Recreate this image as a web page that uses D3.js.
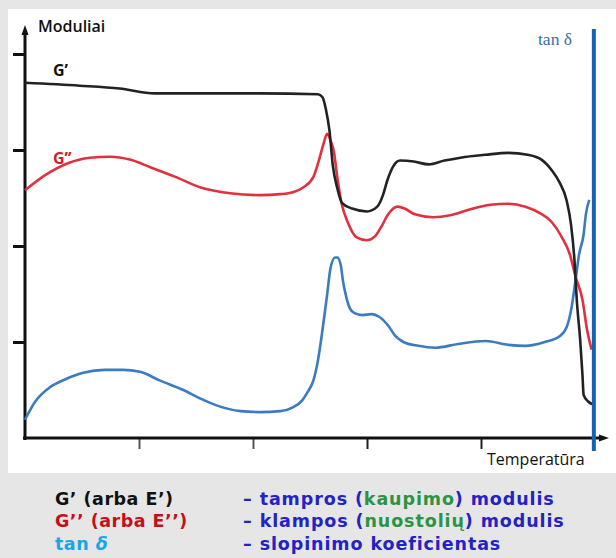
<!DOCTYPE html>
<html><head><meta charset="utf-8">
<script src="https://cdn.jsdelivr.net/npm/d3@7"></script>
<style>html,body{margin:0;padding:0;background:#e6e6e6;}svg{display:block;}</style>
</head><body>
<svg id="chart" width="616" height="558"></svg>
<script>
// ---- data (temperature in arbitrary units, modulus in arbitrary units) ----
const xTicks = [100, 200, 300, 400];
const yTicks = [100, 200, 300, 400];

const gPrimeT = [0, 48, 83, 114, 154, 206, 257, 261, 264, 267, 270, 274, 278, 287, 300, 309, 314, 318, 323, 329, 341, 354, 368, 382, 404, 424, 441, 453, 462, 469, 475, 479, 482, 484, 487, 489, 490, 494, 498];
const gPrimeV = [370, 367, 364, 359, 359, 359, 358, 355, 342, 321, 284, 260, 245, 239, 236, 241, 253, 269, 283, 289, 288, 285, 289, 292, 295, 297, 295, 290, 279, 266, 248, 222, 185, 144, 102, 66, 45, 38, 35];

const gDoubleT = [0, 18, 37, 57, 75, 92, 110, 132, 154, 180, 206, 224, 235, 244, 253, 258, 262, 265, 268, 271, 274, 278, 283, 291, 300, 307, 313, 318, 327, 333, 342, 358, 373, 390, 408, 424, 439, 452, 462, 471, 478, 483, 489, 493, 497];
const gDoubleV = [258, 274, 286, 292, 293, 290, 282, 272, 261, 255, 253, 254, 256, 261, 272, 290, 307, 317, 310, 298, 271, 243, 225, 209, 206, 210, 221, 232, 241, 239, 233, 230, 232, 238, 243, 244, 241, 234, 225, 209, 191, 168, 144, 113, 92];

const tanDeltaT = [0, 9, 22, 35, 51, 70, 86, 101, 118, 139, 154, 168, 189, 206, 224, 235, 243, 248, 253, 257, 261, 265, 268, 272, 274, 277, 279, 282, 285, 289, 296, 304, 311, 318, 325, 332, 345, 360, 380, 404, 424, 439, 456, 469, 475, 479, 483, 486, 490, 492, 495];
const tanDeltaV = [19, 38, 53, 61, 68, 71, 71, 69, 60, 50, 41, 34, 28, 27, 28, 32, 39, 48, 60, 81, 113, 149, 177, 188, 188, 180, 163, 146, 135, 130, 128, 129, 126, 118, 106, 100, 96, 94, 98, 101, 97, 96, 100, 106, 115, 133, 165, 191, 212, 233, 248];

const tanAxisT = 499;

const seriesLabels = ["G\u2019", "G\u2019\u2019"];
const axisTitles = {y: "Moduliai", x: "Temperat\u016Bra", tan: "tan \u03B4"};

// ---- drawing ----
const svg = d3.select("#chart");
svg.append("rect").attr("x", 0).attr("y", 0).attr("width", 616).attr("height", 558).attr("fill", "#e6e6e6");
svg.append("rect").attr("x", 8).attr("y", 9).attr("width", 608).attr("height", 464).attr("fill", "#ffffff");

const x = d3.scaleLinear().domain([0, 500]).range([25, 595]);
const y = d3.scaleLinear().domain([0, 400]).range([438, 54]);

// axes ticks
const yAxis = d3.axisLeft(y).tickValues(yTicks).tickSize(12).tickSizeOuter(0).tickFormat("");
const gy = svg.append("g").attr("transform", "translate(25,0)").call(yAxis);
gy.select(".domain").remove();
gy.selectAll(".tick line").attr("stroke", "#111").attr("stroke-width", 3);

const xAxis = d3.axisBottom(x).tickValues(xTicks).tickSize(11).tickSizeOuter(0).tickFormat("");
const gx = svg.append("g").attr("transform", "translate(0,438)").call(xAxis);
gx.select(".domain").remove();
gx.selectAll(".tick line").attr("stroke", (d, i) => i < 2 ? "#555" : "#222").attr("stroke-width", 2);

// axis lines with arrows
svg.append("line").attr("x1", 25).attr("y1", 440).attr("x2", 25).attr("y2", 32).attr("stroke", "#111").attr("stroke-width", 3);
svg.append("path").attr("d", "M25,25 L21.5,35 L28.5,35 Z").attr("fill", "#111");
svg.append("line").attr("x1", 23).attr("y1", 438).attr("x2", 600).attr("y2", 438).attr("stroke", "#111").attr("stroke-width", 3);
svg.append("path").attr("d", "M609,438 L599,434.5 L599,441.5 Z").attr("fill", "#111");

// curves
const line = d3.line().x(d => x(d[0])).y(d => y(d[1])).curve(d3.curveMonotoneX);
const zip = (a, b) => a.map((v, i) => [v, b[i]]);

svg.append("path").datum(zip(tanDeltaT, tanDeltaV)).attr("d", line)
  .attr("fill", "none").attr("stroke", "#3b7bc2").attr("stroke-width", 2.6);
svg.append("path").datum(zip(gDoubleT, gDoubleV)).attr("d", line)
  .attr("fill", "none").attr("stroke", "#e2303e").attr("stroke-width", 2.6);
svg.append("path").datum(zip(gPrimeT, gPrimeV)).attr("d", line)
  .attr("fill", "none").attr("stroke", "#222222").attr("stroke-width", 2.6);

// tan delta axis line
svg.append("line").attr("x1", x(tanAxisT)).attr("y1", 29).attr("x2", x(tanAxisT)).attr("y2", 451)
  .attr("stroke", "#1663b3").attr("stroke-width", 4);

// texts
const sans = "'Open Sans', 'Noto Sans', sans-serif";
svg.append("text").attr("x", 38).attr("y", 32).attr("font-family", sans).attr("font-size", 16)
  .attr("font-weight", 600).attr("fill", "#111").text(axisTitles.y);
svg.append("text").attr("x", 487).attr("y", 465).attr("font-family", sans).attr("font-size", 16)
  .attr("fill", "#111").text(axisTitles.x);
svg.append("text").attr("x", 538).attr("y", 45).attr("font-family", "'Liberation Serif', 'DejaVu Serif', serif")
  .attr("font-size", 17.5).attr("fill", "#3a6ea8").text(axisTitles.tan);

svg.append("text").attr("x", 53).attr("y", 76).attr("font-family", sans).attr("font-size", 16)
  .attr("font-weight", 700).attr("fill", "#111").text(seriesLabels[0]);
svg.append("text").attr("x", 53).attr("y", 164).attr("font-family", sans).attr("font-size", 16)
  .attr("font-weight", 700).attr("fill", "#d2202c").text(seriesLabels[1]);

// legend
const legFont = "'DejaVu Sans', Verdana, sans-serif";
const blue = "#2323c4", green = "#2a9444";
const legendRows = [
  {left: [["G\u2019 (arba E\u2019)", "#111", "normal"]],
   right: [["\u2013 tampros (", blue], ["kaupimo", green], [") modulis", blue]]},
  {left: [["G\u2019\u2019 (arba E\u2019\u2019)", "#c4101c", "normal"]],
   right: [["\u2013 klampos (", blue], ["nuostoli\u0173", green], [") modulis", blue]]},
  {left: [["tan ", "#1aa6e2", "normal"], ["\u03B4", "#1aa6e2", "italic"]],
   right: [["\u2013 slopinimo koeficientas", blue]]}
];
const legBase = [505, 527, 550];
legendRows.forEach((row, i) => {
  const t1 = svg.append("text").attr("x", 55).attr("y", legBase[i]).attr("font-family", legFont)
    .attr("font-size", 17.5).attr("font-weight", 700).attr("letter-spacing", 0.5);
  row.left.forEach(p => t1.append("tspan").attr("fill", p[1]).attr("font-style", p[2]).text(p[0]));
  const t2 = svg.append("text").attr("x", 243).attr("y", legBase[i]).attr("font-family", legFont)
    .attr("font-size", 17.5).attr("font-weight", 700).attr("letter-spacing", 0.9);
  row.right.forEach(p => t2.append("tspan").attr("fill", p[1]).text(p[0]));
});
</script>
</body></html>
